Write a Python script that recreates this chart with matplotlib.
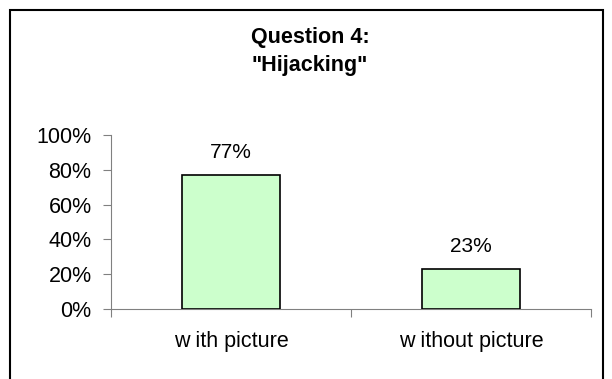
import matplotlib.pyplot as plt
from matplotlib.patches import Rectangle
from matplotlib.ticker import FuncFormatter

categories = ["w ith picture", "w ithout picture"]
values = [77, 23]
value_labels = ["77%", "23%"]
yticks = [0, 20, 40, 60, 80, 100]

plt.rcParams["font.family"] = ["Liberation Sans", "DejaVu Sans"]

fig = plt.figure(figsize=(6.12, 3.79), dpi=100)
ax = fig.add_axes([111 / 612, 70 / 379, 480 / 612, 174 / 379])

x = [0.5, 1.5]
ax.bar(x, values, width=0.405, color="#CCFFCC", edgecolor="black", linewidth=1.2, zorder=3)
for xi, v, lab in zip(x, values, value_labels):
    ax.text(xi, v + 7.5, lab, ha="center", va="bottom", fontsize=15)

ax.set_xlim(0, 2)
ax.set_ylim(0, 100)
ax.set_yticks(yticks)
ax.yaxis.set_major_formatter(FuncFormatter(lambda v, p: f"{v:.0f}%"))
ax.set_xticks([0, 1, 2])
ax.set_xticklabels([])
ax.set_xticks(x, minor=True)
ax.set_xticklabels(categories, minor=True, fontsize=15.5)
ax.tick_params(axis="x", which="minor", length=0, pad=16)
ax.tick_params(axis="x", which="major", direction="out", length=6, color="#808080")
ax.tick_params(axis="y", direction="out", length=6, color="#808080", labelsize=15.5, pad=8)

for s in ("top", "right"):
    ax.spines[s].set_visible(False)
ax.spines["left"].set_color("#808080")
ax.spines["bottom"].set_color("#808080")

fig.text(310 / 612, 1 - 37 / 379, "Question 4:", ha="center", va="center",
         fontsize=15.5, fontweight="bold")
fig.text(310 / 612, 1 - 65 / 379, '"Hijacking"', ha="center", va="center",
         fontsize=15.5, fontweight="bold")

fig.patches.append(Rectangle((10 / 612, -0.05), 593 / 612, 1 - 10 / 379 + 0.05,
                             transform=fig.transFigure, fill=False,
                             edgecolor="black", linewidth=1.5))

fig.savefig("out.png", dpi=100)
